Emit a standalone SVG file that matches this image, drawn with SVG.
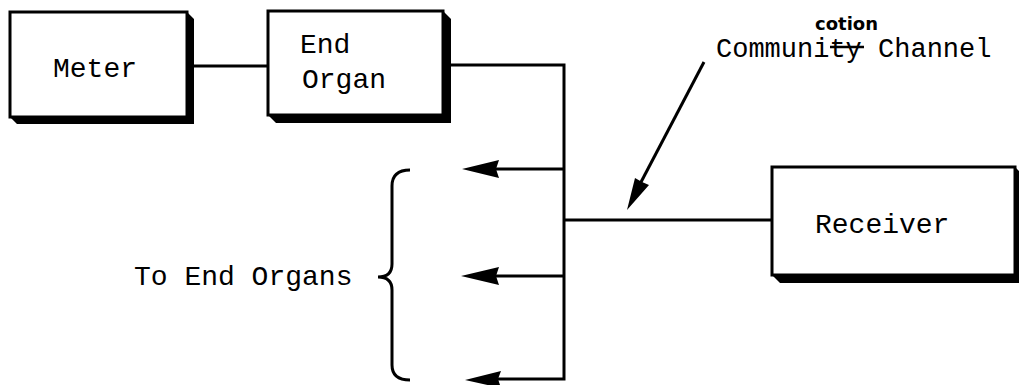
<svg xmlns="http://www.w3.org/2000/svg" width="1019" height="385" viewBox="0 0 1019 385">
<style>
.box{fill:#fff;stroke:#000;stroke-width:3}
.shadow{fill:#000}
.conn{stroke:#000;stroke-width:3;fill:none}
.head{fill:#000;stroke:none}
.t{font-family:"Liberation Mono","Courier New",monospace;font-size:28px;fill:#000}
.hand{font-family:"DejaVu Sans",sans-serif;font-weight:bold;font-size:18px;fill:#000}
</style>
<rect width="1019" height="385" fill="#fff"/>
<g id="connectors">
<line class="conn" x1="187" y1="66" x2="268" y2="66"/>
<polyline class="conn" points="451,65 564,65 564,379 498,379"/>
<line class="conn" x1="564" y1="169" x2="496" y2="169"/>
<line class="conn" x1="564" y1="276" x2="496" y2="276"/>
<line class="conn" x1="564" y1="220" x2="772" y2="220"/>
<path class="head" d="M462,169 L499,160 L496,169 L499,178 Z"/>
<path class="head" d="M461,276 L499,267 L496,276 L499,285 Z"/>
<path class="head" d="M465,380 L501,371 L498,379 L501,388 Z"/>
<line class="conn" x1="704" y1="62" x2="640" y2="184"/>
<path class="head" d="M627,210 L649,185 L642,182 L635,178 Z"/>
<path class="conn" d="M410,170 Q392,170 392,186 L392,264 Q392,277 378,277 Q392,277 392,290 L392,365 Q392,380 410,380"/>
</g>
<g id="meter">
<polygon class="shadow" points="187,12 194,19 194,124 17,124 10,117 187,117"/>
<rect class="box" x="10" y="12" width="177" height="105"/>
<text class="t" x="53" y="77">Meter</text>
</g>
<g id="end-organ">
<polygon class="shadow" points="443,11 451,19 451,123 276,123 268,115 443,115"/>
<rect class="box" x="268" y="11" width="175" height="104"/>
<text class="t" x="300" y="53">End</text>
<text class="t" x="302" y="88">Organ</text>
</g>
<g id="receiver">
<polygon class="shadow" points="1015,167 1023,175 1023,283 780,283 772,275 1015,275"/>
<rect class="box" x="772" y="167" width="243" height="108"/>
<text class="t" x="815" y="233">Receiver</text>
</g>
<g id="to-end-organs">
<text class="t" x="134" y="285">To End Organs</text>
</g>
<g id="channel-label">
<text class="t" x="716" y="57" style="font-size:27px">Community Channel</text>
<line x1="830" y1="47" x2="864" y2="47" stroke="#000" stroke-width="2.5"/>
<text class="hand" x="815" y="30">cotion</text>
</g>
</svg>
